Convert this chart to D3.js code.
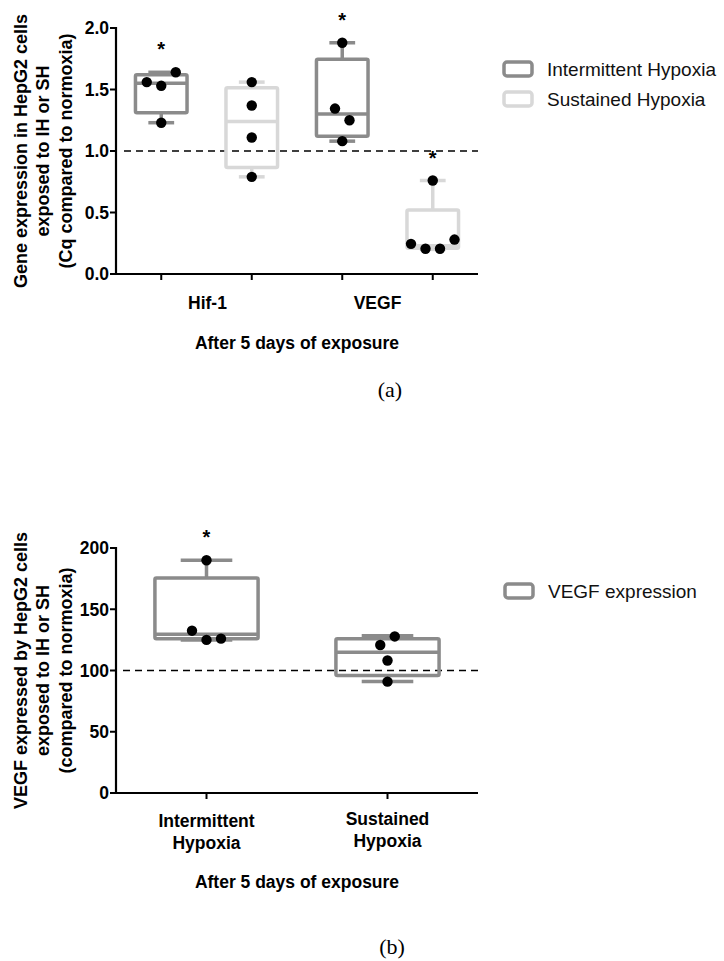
<!DOCTYPE html>
<html><head><meta charset="utf-8">
<script src="https://cdn.jsdelivr.net/npm/d3@7"></script>
<style>body{margin:0;background:#fff}svg{display:block}</style>
</head><body>
<svg id="c" width="724" height="961"></svg>
<script>
// ---------- DATA ----------
// Panel (a)
const genesA = ["Hif-1", "VEGF"];
const seriesA = ["Intermittent Hypoxia", "Sustained Hypoxia"];
const yTicksA = [0, 0.5, 1.0, 1.5, 2.0];
// box stats: [min, q1, median, q3, max]
const hifIH_box = [1.23, 1.31, 1.55, 1.62, 1.64];
const hifSH_box = [0.79, 0.865, 1.24, 1.515, 1.56];
const vegfIH_box = [1.08, 1.12, 1.30, 1.745, 1.88];
const vegfSH_box = [0.20, 0.21, 0.23, 0.52, 0.76];
const hifIH_pts = [1.53, 1.56, 1.64, 1.23];
const hifSH_pts = [1.56, 1.37, 1.11, 0.79];
const vegfIH_pts = [1.88, 1.345, 1.25, 1.08];
const vegfSH_pts = [0.76, 0.245, 0.205, 0.205, 0.28];
const starsA = [true, false, true, true];
const refA = 1.0;

// Panel (b)
const groupsB = ["Intermittent Hypoxia", "Sustained Hypoxia"];
const seriesB = ["VEGF expression"];
const yTicksB = [0, 50, 100, 150, 200];
const ihB_box = [125, 126, 129.5, 175.5, 190];
const shB_box = [91, 96, 115, 126, 128.4];
const ihB_pts = [125, 132.5, 126, 190];
const shB_pts = [120.8, 127.8, 108.2, 90.9];
const starsB = [true, false];
const refB = 100;

// ---------- STYLE ----------
const IH = "#8b8b8b", SH = "#d8d8d8";
const BOLD = "Liberation Sans, Arial, sans-serif";
const svg = d3.select("#c");

function boxplot(g, x, y, keys, boxes, pts, colors, stars) {
  const step = x.step();
  const bw = step * 0.57;
  keys.forEach((k, i) => {
    const cx = x(k), b = boxes[i], col = colors[i];
    const grp = g.append("g");
    const sw = 3.5;
    grp.append("line").attr("x1", cx).attr("x2", cx).attr("y1", y(b[3])).attr("y2", y(b[4]))
      .attr("stroke", col).attr("stroke-width", sw);
    grp.append("line").attr("x1", cx).attr("x2", cx).attr("y1", y(b[1])).attr("y2", y(b[0]))
      .attr("stroke", col).attr("stroke-width", sw);
    [b[0], b[4]].forEach(v => grp.append("line").attr("x1", cx - bw / 4).attr("x2", cx + bw / 4)
      .attr("y1", y(v)).attr("y2", y(v)).attr("stroke", col).attr("stroke-width", sw));
    grp.append("rect").attr("x", cx - bw / 2).attr("width", bw)
      .attr("y", y(b[3])).attr("height", y(b[1]) - y(b[3]))
      .attr("fill", "none").attr("stroke", col).attr("stroke-width", sw).attr("rx", 1.5);
    grp.append("line").attr("x1", cx - bw / 2).attr("x2", cx + bw / 2)
      .attr("y1", y(b[2])).attr("y2", y(b[2])).attr("stroke", col).attr("stroke-width", sw);
    // points: cluster by pixel distance, spread horizontally
    const p = pts[i];
    const T = 13, s = 14.5;
    const idx = p.map((v, j) => j);
    const parent = idx.map(j => j);
    const find = j => parent[j] === j ? j : (parent[j] = find(parent[j]));
    for (let a = 0; a < p.length; a++) for (let c = a + 1; c < p.length; c++)
      if (Math.abs(y(p[a]) - y(p[c])) < T) parent[find(c)] = find(a);
    const groups = {};
    idx.forEach(j => { const r = find(j); (groups[r] = groups[r] || []).push(j); });
    const off = new Array(p.length).fill(0);
    Object.values(groups).forEach(m => {
      const n = m.length;
      const order = n === 4 ? [-1.5, -0.5, 0.5, 1.5] : (n % 2 ? [0, -1, 1, -2, 2] : [-0.5, 0.5, -1.5, 1.5]);
      m.forEach((j, q) => off[j] = order[q] * s);
    });
    p.forEach((v, j) => grp.append("circle").attr("cx", cx + off[j]).attr("cy", y(v)).attr("r", 5.2).attr("fill", "#000"));
    if (stars[i]) g.append("text").attr("x", cx).attr("y", y(b[4]) - 28 + 12).attr("text-anchor", "middle")
      .attr("font-family", BOLD).attr("font-weight", "bold").attr("font-size", 20).text("*");
  });
}

function axes(g, x, y, ticks, fmt, x0, x1) {
  const y0 = y.range()[0], yTop = y.range()[1];
  g.append("line").attr("x1", x0).attr("x2", x0).attr("y1", yTop - 1).attr("y2", y0 + 1).attr("stroke", "#000").attr("stroke-width", 2.2);
  g.append("line").attr("x1", x0 - 1).attr("x2", x1).attr("y1", y0).attr("y2", y0).attr("stroke", "#000").attr("stroke-width", 2.2);
  ticks.forEach(t => {
    g.append("line").attr("x1", x0 - 6).attr("x2", x0).attr("y1", y(t)).attr("y2", y(t)).attr("stroke", "#000").attr("stroke-width", 2);
    g.append("text").attr("x", x0 - 7).attr("y", y(t)).attr("dy", "0.36em").attr("text-anchor", "end")
      .attr("font-family", BOLD).attr("font-weight", "bold").attr("font-size", 17.5).text(fmt(t));
  });
  x.domain().forEach(k => g.append("line").attr("x1", x(k)).attr("x2", x(k)).attr("y1", y0).attr("y2", y0 + 6).attr("stroke", "#000").attr("stroke-width", 2));
}

function ytitle(g, lines, cy) {
  lines.forEach((l, i) => g.append("text").attr("transform", `translate(${26.5 + i * 22.5},${cy}) rotate(-90)`)
    .attr("text-anchor", "middle").attr("font-family", BOLD).attr("font-weight", "bold").attr("font-size", 18).text(l));
}

function legend(g, items, colors, lx, ly) {
  items.forEach((t, i) => {
    g.append("rect").attr("x", lx).attr("y", ly + i * 30).attr("width", 28).attr("height", 14).attr("rx", 3)
      .attr("fill", "#fff").attr("stroke", colors[i]).attr("stroke-width", 3.5);
    g.append("text").attr("x", lx + 43).attr("y", ly + i * 30 + 14).attr("font-family", BOLD)
      .attr("font-size", 19).attr("fill", "#111").text(t);
  });
}

// ---------- PANEL A ----------
{
  const g = svg.append("g");
  const keys = [];
  genesA.forEach(gn => seriesA.forEach(s => keys.push(gn + "|" + s)));
  const x = d3.scalePoint().domain(keys).range([116, 478]).padding(0.5);
  const y = d3.scaleLinear().domain([0, 2]).range([274, 28]);
  g.append("line").attr("x1", 124).attr("x2", 478).attr("y1", y(refA)).attr("y2", y(refA))
    .attr("stroke", "#000").attr("stroke-width", 1.6).attr("stroke-dasharray", "7,5");
  boxplot(g, x, y, keys, [hifIH_box, hifSH_box, vegfIH_box, vegfSH_box],
    [hifIH_pts, hifSH_pts, vegfIH_pts, vegfSH_pts], [IH, SH, IH, SH], starsA);
  axes(g, x, y, yTicksA, d3.format(".1f"), 116, 478);
  const lblOff = [1, -10];
  genesA.forEach((gn, i) => {
    const cx = (x(gn + "|" + seriesA[0]) + x(gn + "|" + seriesA[1])) / 2;
    g.append("text").attr("x", cx + lblOff[i]).attr("y", 309).attr("text-anchor", "middle")
      .attr("font-family", BOLD).attr("font-weight", "bold").attr("font-size", 17.5).text(gn);
  });
  g.append("text").attr("x", 297).attr("y", 349).attr("text-anchor", "middle")
    .attr("font-family", BOLD).attr("font-weight", "bold").attr("font-size", 17.5).text("After 5 days of exposure");
  ytitle(g, ["Gene expression in HepG2 cells", "exposed to IH or SH", "(Cq compared to normoxia)"], 151);
  legend(g, seriesA, [IH, SH], 504, 62);
  g.append("text").attr("x", 390).attr("y", 397).attr("text-anchor", "middle")
    .attr("font-family", "Liberation Serif, DejaVu Serif, serif").attr("font-size", 22).text("(a)");
}

// ---------- PANEL B ----------
{
  const g = svg.append("g");
  const x = d3.scalePoint().domain(groupsB).range([116, 478]).padding(0.5);
  const y = d3.scaleLinear().domain([0, 200]).range([793, 548]);
  g.append("line").attr("x1", 123).attr("x2", 478).attr("y1", y(refB)).attr("y2", y(refB))
    .attr("stroke", "#000").attr("stroke-width", 1.6).attr("stroke-dasharray", "7,5");
  boxplot(g, x, y, groupsB, [ihB_box, shB_box], [ihB_pts, shB_pts], [IH, IH], starsB);
  axes(g, x, y, yTicksB, d3.format("d"), 116, 478);
  groupsB.forEach((gn, i) => {
    const parts = gn.split(" ");
    parts.forEach((p, j) => g.append("text").attr("x", x(gn)).attr("y", 827 - i * 2 + j * 22).attr("text-anchor", "middle")
      .attr("font-family", BOLD).attr("font-weight", "bold").attr("font-size", 17.5).text(p));
  });
  g.append("text").attr("x", 297).attr("y", 888).attr("text-anchor", "middle")
    .attr("font-family", BOLD).attr("font-weight", "bold").attr("font-size", 17.5).text("After 5 days of exposure");
  ytitle(g, ["VEGF expressed by HepG2 cells", "exposed to IH or SH", "(compared to normoxia)"], 670.5);
  legend(g, seriesB, [IH], 505, 584);
  g.append("text").attr("x", 392).attr("y", 954).attr("text-anchor", "middle")
    .attr("font-family", "Liberation Serif, DejaVu Serif, serif").attr("font-size", 22).text("(b)");
}
</script>
</body></html>
